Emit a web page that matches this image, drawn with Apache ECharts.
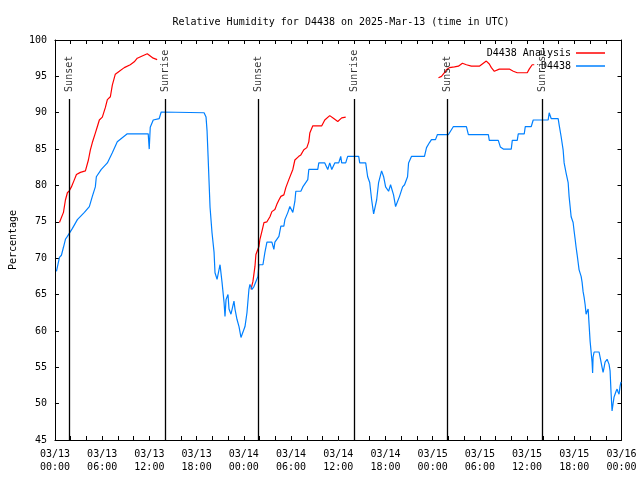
<!DOCTYPE html>
<html>
<head>
<meta charset="utf-8">
<script src="https://cdn.jsdelivr.net/npm/echarts@6/dist/echarts.min.js"></script>
<style>html,body{margin:0;padding:0;background:#fff;}#c{width:640px;height:480px;}</style>
</head>
<body>
<div id="c"></div>
<script>
// Hours since 2025-03-13 00:00 UTC
const dateLabels = ['03/13', '03/14', '03/15', '03/16'];
const hourLabels = ['00:00', '06:00', '12:00', '18:00'];
const yTicks = [45, 50, 55, 60, 65, 70, 75, 80, 85, 90, 95, 100];

const sunTimes = [1.80, 14.03, 25.82, 38.02, 49.83, 61.98];
const sunLabels = ['Sunset', 'Sunrise', 'Sunset', 'Sunrise', 'Sunset', 'Sunrise'];
const sunLineTop = 91.9;

const observed = [
[0.19,68.2],[0.57,70.1],[0.82,70.4],[1.08,71.5],[1.33,72.6],[1.58,73.0],[2.22,74.1],[2.85,75.3],[3.74,76.3],[4.37,77.1],[4.75,78.5],[5.13,79.8],[5.26,81.2],[5.89,82.2],[6.66,83.1],[7.29,84.5],[7.92,86.0],[9.19,87.1],[11.85,87.1],[11.98,85.0],[12.11,88.0],[12.49,89.0],[13.25,89.2],[13.50,90.1],[18.95,90.0],[19.20,89.4],[19.33,87.5],[19.46,84.0],[19.58,80.6],[19.71,77.0],[19.96,73.5],[20.22,70.8],[20.34,68.0],[20.60,67.1],[20.85,67.1],[20.98,69.1],[21.23,66.7],[21.49,63.9],[21.61,62.0],[21.74,64.3],[21.99,65.0],[22.12,63.0],[22.37,62.3],[22.75,64.1],[22.88,63.0],[23.13,61.6],[23.39,60.6],[23.64,59.1],[23.89,59.2],[24.15,60.6],[24.40,62.5],[24.65,65.7],[24.78,66.4],[25.04,65.7],[25.29,66.1],[25.54,66.8],[25.80,67.5],[25.92,69.1],[26.43,69.1],[26.68,70.8],[26.94,72.2],[27.57,72.2],[27.82,71.2],[27.95,72.2],[28.46,73.0],[28.71,74.4],[29.09,74.4],[29.22,75.3],[29.60,76.3],[29.85,77.1],[30.23,76.3],[30.49,77.8],[30.61,79.2],[31.25,79.2],[31.50,79.8],[32.13,80.8],[32.26,82.2],[33.40,82.2],[33.53,83.1],[34.29,83.1],[34.67,82.2],[34.92,83.1],[35.18,82.2],[35.56,83.1],[36.06,83.1],[36.32,84.0],[36.44,83.1],[36.95,83.1],[37.20,84.0],[38.60,84.0],[38.73,83.1],[39.49,83.1],[39.74,81.2],[40.00,80.4],[40.25,78.0],[40.50,76.1],[40.88,78.0],[41.13,80.4],[41.51,82.0],[41.77,81.2],[42.02,79.8],[42.40,79.2],[42.65,80.1],[43.03,78.7],[43.29,77.1],[43.54,77.1],[43.79,78.5],[44.18,79.8],[44.43,80.1],[44.81,81.2],[44.94,83.1],[45.32,84.0],[46.96,84.0],[47.22,85.2],[47.60,85.9],[47.85,86.3],[48.36,86.3],[48.61,87.0],[50.01,87.0],[50.64,88.1],[52.29,88.1],[52.54,87.0],[55.08,87.0],[55.20,86.2],[56.34,86.2],[56.60,85.3],[56.98,85.0],[57.99,85.0],[58.12,86.2],[58.75,86.2],[58.88,87.1],[59.64,87.1],[59.77,88.1],[60.53,88.1],[60.78,89.0],[62.68,89.0],[62.81,90.0],[63.06,89.2],[63.95,89.2],[64.08,88.3],[64.33,86.7],[64.58,84.9],[64.71,83.1],[64.96,81.7],[65.22,80.4],[65.34,78.5],[65.47,77.1],[65.60,75.7],[65.85,74.9],[65.98,73.7],[66.11,72.6],[66.23,71.5],[66.36,70.5],[66.49,69.4],[66.61,68.4],[66.74,68.2],[66.87,67.5],[66.99,66.7],[67.12,65.4],[67.25,64.6],[67.38,63.6],[67.50,62.3],[67.63,62.7],[67.76,63.0],[67.88,60.9],[68.01,58.6],[68.26,55.7],[68.33,54.2],[68.39,56.4],[68.52,57.1],[69.15,57.1],[69.28,56.4],[69.53,55.0],[69.66,54.3],[69.79,55.0],[69.91,55.7],[70.17,56.1],[70.29,56.1],[70.42,55.4],[70.55,54.5],[70.67,51.6],[70.80,49.0],[70.93,50.0],[71.05,50.9],[71.18,51.3],[71.31,51.7],[71.44,52.0],[71.56,51.6],[71.69,51.3],[71.82,52.4],[71.94,53.0]
];

const analysisDay1 = [
[0.57,74.9],[0.70,74.9],[1.08,76.3],[1.33,78.0],[1.58,79.0],[1.84,79.3],[2.09,79.8],[2.47,80.8],[2.73,81.5],[3.23,81.8],[3.87,82.0],[4.25,83.5],[4.50,84.9],[4.75,85.9],[5.13,87.2],[5.39,88.1],[5.64,89.0],[6.02,89.4],[6.40,90.7],[6.66,91.8],[7.04,92.2],[7.29,93.8],[7.67,95.3],[8.18,95.7],[8.81,96.2],[9.57,96.6],[10.08,97.0],[10.46,97.5],[11.09,97.8],[11.73,98.1],[11.98,97.9],[12.49,97.5],[12.99,97.3]
];
const analysisDay2 = [
[24.91,65.7],[25.16,66.8],[25.42,68.9],[25.54,70.5],[25.92,71.6],[26.05,72.6],[26.30,73.7],[26.56,74.9],[26.94,75.0],[27.32,75.7],[27.57,76.4],[27.95,76.7],[28.20,77.4],[28.46,78.0],[28.71,78.5],[29.09,78.7],[29.34,79.7],[29.72,80.8],[29.85,81.0],[30.23,82.2],[30.49,83.5],[30.99,84.0],[31.25,84.2],[31.63,84.9],[32.01,85.2],[32.26,86.0],[32.39,87.2],[32.77,88.2],[33.91,88.2],[34.29,89.0],[34.92,89.6],[35.43,89.2],[35.94,88.8],[36.44,89.3],[36.95,89.4]
];
const analysisDay3 = [
[48.74,94.8],[49.12,95.0],[49.50,95.5],[49.75,95.9],[50.13,96.2],[50.77,96.3],[51.27,96.4],[51.78,96.8],[52.29,96.6],[52.92,96.4],[53.93,96.4],[54.44,96.8],[54.82,97.1],[55.20,96.7],[55.46,96.2],[55.84,95.7],[56.47,96.0],[57.74,96.0],[58.25,95.7],[58.75,95.5],[60.02,95.5],[60.27,96.0],[60.65,96.6],[60.91,96.6]
];

const FONT = 'DejaVu Sans Mono';
const FS = 10;
const RED = '#ff0000';
const BLUE = '#0080ff';

function xLabel(v) {
  if (v % 6 !== 0) return '';
  const d = Math.floor(v / 24);
  const h = (v % 24) / 6;
  return dateLabels[d] + '\n' + hourLabels[h];
}

const chart = echarts.init(document.getElementById('c'), null, { renderer: 'canvas' });

const axisCommon = {
  axisLine: { show: true, onZero: false, lineStyle: { color: '#000', width: 1 } },
  axisTick: { show: true, inside: true, length: 4, lineStyle: { color: '#000', width: 1 } },
  splitLine: { show: false }
};

function analysisSeries(data) {
  return {
    name: 'D4438 Analysis', type: 'line', data: data,
    showSymbol: false, symbol: 'none', z: 2,
    lineStyle: { color: RED, width: 1.2 }, itemStyle: { color: RED }
  };
}

chart.setOption({
  animation: false,
  backgroundColor: '#fff',
  textStyle: { fontFamily: FONT, fontSize: FS, color: '#000' },
  title: {
    text: 'Relative Humidity for D4438 on 2025-Mar-13 (time in UTC)',
    left: 336, top: 12, textAlign: 'center',
    textStyle: { fontFamily: FONT, fontSize: FS, fontWeight: 'normal', color: '#000' }
  },
  legend: [
    {
      data: ['D4438 Analysis'], right: 30, top: 43, orient: 'vertical',
      align: 'right', icon: 'rect', itemWidth: 29, itemHeight: 1.5,
      textStyle: { fontFamily: FONT, fontSize: FS, color: '#000' }, selectedMode: false
    },
    {
      data: ['D4438'], right: 30, top: 56, orient: 'vertical',
      align: 'right', icon: 'rect', itemWidth: 29, itemHeight: 1.5,
      textStyle: { fontFamily: FONT, fontSize: FS, color: '#000' }, selectedMode: false
    }
  ],
  grid: { left: 52.5, right: 18.5, top: 40, bottom: 40, containLabel: false },
  xAxis: [
    Object.assign({}, axisCommon, {
      type: 'value', min: 0, max: 72, interval: 2, position: 'bottom',
      axisLabel: { formatter: xLabel, fontFamily: FONT, fontSize: FS, color: '#000', margin: 8, lineHeight: 13 }
    }),
    Object.assign({}, axisCommon, {
      type: 'value', min: 0, max: 72, interval: 2, position: 'top',
      axisLabel: { show: false }
    })
  ],
  yAxis: [
    Object.assign({}, axisCommon, {
      type: 'value', min: yTicks[0], max: yTicks[yTicks.length - 1], interval: 5, position: 'left',
      name: 'Percentage', nameLocation: 'middle', nameGap: 35, nameRotate: 90,
      nameTextStyle: { fontFamily: FONT, fontSize: FS, color: '#000' },
      axisLabel: { fontFamily: FONT, fontSize: FS, color: '#000', margin: 8 }
    }),
    Object.assign({}, axisCommon, {
      type: 'value', min: yTicks[0], max: yTicks[yTicks.length - 1], interval: 5, position: 'right',
      axisLabel: { show: false }
    })
  ],
  series: [
    analysisSeries(analysisDay1),
    analysisSeries(analysisDay2),
    analysisSeries(analysisDay3),
    {
      name: 'D4438', type: 'line', data: observed,
      showSymbol: false, symbol: 'none', z: 3,
      lineStyle: { color: BLUE, width: 1.2 }, itemStyle: { color: BLUE }
    },
    {
      name: 'sun', type: 'scatter', symbolSize: 0, z: 5, silent: true,
      data: sunTimes.map((t, i) => ({ name: sunLabels[i], value: [t, sunLineTop] })),
      label: {
        show: true, formatter: '{b}', position: 'top', distance: 7, rotate: 90,
        align: 'left', verticalAlign: 'middle',
        fontFamily: FONT, fontSize: FS, color: '#000'
      },
      markLine: {
        silent: true, symbol: ['none', 'none'], animation: false,
        label: { show: false },
        lineStyle: { color: '#000', width: 1.3, type: 'solid' },
        emphasis: { disabled: true },
        data: sunTimes.map(t => [{ coord: [t, yTicks[0]] }, { coord: [t, sunLineTop] }])
      }
    }
  ]
});
</script>
</body>
</html>
